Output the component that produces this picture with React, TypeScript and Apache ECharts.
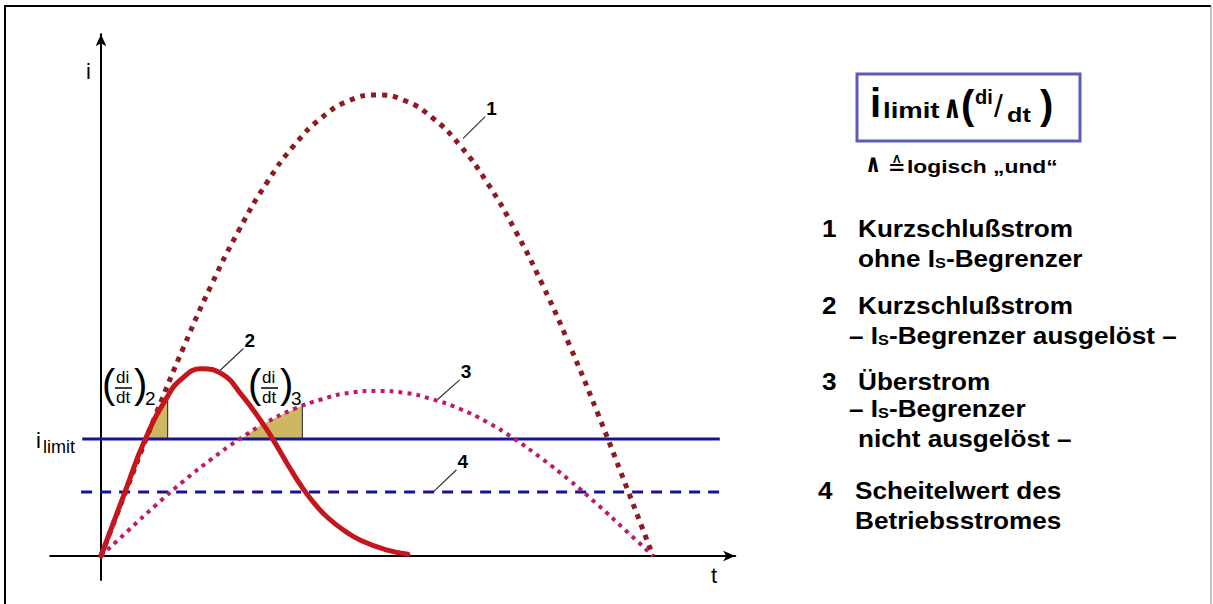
import { useEffect, useRef } from 'react';
import * as echarts from 'echarts';

// Time axis (t) and current axis (i) in arbitrary units
const T_MIN = -0.92;
const T_MAX = 11.49;
const I_MIN = -0.52;
const I_MAX = 11.32;

// 1: short-circuit current without limiter
const t1 = [0, 0.5, 1, 1.5, 2, 2.5, 3, 3.5, 4, 4.5, 5, 5.5, 6, 6.5, 7, 7.5, 8, 8.5, 9, 9.5, 10];
const i1 = [0, 1.56, 3.09, 4.54, 5.88, 7.07, 8.09, 8.91, 9.51, 9.88, 10, 9.88, 9.51, 8.91, 8.09, 7.07, 5.88, 4.54, 3.09, 1.56, 0];

// 2: short-circuit current, limiter tripped
const t2 = [0, 0.435, 0.797, 1.19, 1.46, 1.82, 2.19, 2.55, 2.91, 3.12, 3.39, 3.66, 3.88, 4.11, 4.42, 4.72, 5.15, 5.56];
const i2 = [0, 1.39, 2.52, 3.43, 3.84, 4.06, 3.95, 3.49, 2.91, 2.52, 1.97, 1.46, 1.12, 0.83, 0.54, 0.33, 0.14, 0.04];

// 3: overcurrent, limiter not tripped
const t3 = [0, 0.5, 1, 1.5, 2, 2.5, 3, 3.5, 4, 4.5, 5, 5.5, 6, 6.5, 7, 7.5, 8, 8.5, 9, 9.5, 10];
const i3 = [0, 0.56, 1.11, 1.63, 2.1, 2.53, 2.9, 3.19, 3.4, 3.54, 3.58, 3.54, 3.4, 3.19, 2.9, 2.53, 2.1, 1.63, 1.11, 0.56, 0];

// 4: peak value of the operating current, and the limit threshold
const I_LIMIT = 2.54;
const I_PEAK_OPERATING = 1.39;
const hLineT = [-0.34, 11.21];
const hDashT = [-0.36, 11.21];

// di/dt slices above i_limit
const slice2T = [0.797, 1.0, 1.208];
const slice2I = [2.54, 3.0, 3.46];
const slice3T = [2.54, 2.9, 3.3, 3.647];
const slice3I = [2.54, 2.84, 3.08, 3.26];

// Callout leader lines: [from t, from i, to t, to i], label
const callouts: [number, number, number, number, string][] = [
  [6.56, 9.06, 6.96, 9.53, '1'],
  [2.16, 4.03, 2.58, 4.5, '2'],
  [6.08, 3.38, 6.5, 3.82, '3'],
  [6.02, 1.39, 6.44, 1.87, '4'],
];

const FONT = "'Liberation Sans', Arial, Helvetica, sans-serif";
const SYMBOL_FONT = "'DejaVu Sans', 'Liberation Sans', sans-serif";
const C1 = '#8c1c24';
const C2 = '#c4161c';
const C3 = '#be1a6b';
const BLUE = '#14149a';
const TAN = '#cdb763';

const zip = (a: number[], b: number[]) => a.map((v, k) => [v, b[k]]);

type Run = { text: string; size: number; bold?: boolean; dy?: number; sx?: number };

let measureCtx: CanvasRenderingContext2D | null = null;
function measure(text: string, size: number, bold: boolean) {
  if (!measureCtx) measureCtx = document.createElement('canvas').getContext('2d');
  if (!measureCtx) return text.length * size * 0.55;
  measureCtx.font = `${bold ? 'bold ' : ''}${size}px ${FONT}`;
  return measureCtx.measureText(text).width;
}

function textEl(x: number, y: number, text: string, size: number, bold = false, sx = 1, family = FONT) {
  return {
    type: 'text',
    x,
    y,
    scaleX: sx,
    silent: true,
    style: {
      text,
      fontSize: size,
      fontWeight: bold ? 'bold' : 'normal',
      fontFamily: family,
      fill: '#000',
      align: 'left',
      verticalAlign: 'middle',
    },
  };
}

// Lays out consecutive text runs on one line (y is the cap middle)
function chain(x: number, y: number, runs: Run[], sx = 1) {
  const out: any[] = [];
  let cx = x;
  runs.forEach((r) => {
    const s = r.sx ?? sx;
    out.push(textEl(cx, y + (r.dy ?? 0), r.text, r.size, r.bold ?? true, s));
    cx += measure(r.text, r.size, r.bold ?? true) * s;
  });
  return out;
}

function fraction(ox: number, sub: string) {
  return [
    textEl(102 + ox, 383.5, '(', 40, false),
    textEl(116 + ox, 377.2, 'di', 17, false),
    { type: 'line', silent: true, shape: { x1: 115 + ox, y1: 388, x2: 132 + ox, y2: 388 }, style: { stroke: '#000', lineWidth: 1.5 } },
    textEl(116 + ox, 397.5, 'dt', 17, false),
    textEl(134 + ox, 383.5, ')', 40, false),
    textEl(145 + ox, 398.4, sub, 19, false),
  ];
}

function staticGraphics() {
  const LS = 24;
  const SX = 1.09;
  const sub = (t: string): Run => ({ text: t, size: 15, dy: 5 });
  const n = (t: string): Run => ({ text: t, size: LS });
  return [
    // frame
    { type: 'line', silent: true, shape: { x1: 5, y1: 6, x2: 1211, y2: 6 }, style: { stroke: '#000', lineWidth: 2 } },
    { type: 'line', silent: true, shape: { x1: 5, y1: 5, x2: 5, y2: 604 }, style: { stroke: '#000', lineWidth: 2 } },
    { type: 'line', silent: true, shape: { x1: 1211, y1: 6, x2: 1211, y2: 604 }, style: { stroke: '#888', lineWidth: 1 } },

    // axis names
    textEl(86, 71, 'i', 22),
    textEl(711, 575, 't', 22),

    // i_limit label
    textEl(36, 440.3, 'i', 22),
    textEl(43, 446.7, 'limit', 18),

    // di/dt labels
    ...fraction(0, '2'),
    ...fraction(146, '3'),

    // boxed condition
    { type: 'rect', silent: true, shape: { x: 857, y: 74, width: 223, height: 67 }, style: { fill: 'none', stroke: '#5d5db3', lineWidth: 3 } },
    textEl(870, 103, 'i', 40, true),
    textEl(883, 110.3, 'limit', 22, true, 1.25),
    textEl(943, 107, '∧', 32, true, 0.72, SYMBOL_FONT),
    textEl(961, 105, '(', 40, true),
    textEl(975, 97, 'di', 20, true),
    textEl(994, 106, '/', 32, false),
    textEl(1007, 114.6, 'dt', 21, true, 1.2),
    textEl(1040, 105, ')', 40, true),

    textEl(865, 163, '∧', 25, true, 0.8, SYMBOL_FONT),
    textEl(888, 166, '≙', 25, false, 0.85, SYMBOL_FONT),
    textEl(907, 166, 'logisch „und“', 19, true, 1.2),

    // key
    ...chain(822, 228, [n('1')], SX),
    ...chain(858, 228, [n('Kurzschlußstrom')], SX),
    ...chain(858, 258, [n('ohne I'), sub('S'), n('-Begrenzer')], SX),
    ...chain(822, 305, [n('2')], SX),
    ...chain(858, 305, [n('Kurzschlußstrom')], SX),
    ...chain(849, 335, [n('– I'), sub('S'), n('-Begrenzer ausgelöst –')], SX),
    ...chain(822, 381, [n('3')], SX),
    ...chain(858, 381, [n('Überstrom')], SX),
    ...chain(849, 408, [n('– I'), sub('S'), n('-Begrenzer')], SX),
    ...chain(858, 438, [n('nicht ausgelöst –')], SX),
    ...chain(818, 490, [n('4')], SX),
    ...chain(855, 490, [n('Scheitelwert des')], SX),
    ...chain(855, 520, [n('Betriebsstromes')], SX),
  ];
}

const baseLine = { showSymbol: false, silent: true, animation: false };

function buildOption() {
  return {
    animation: false,
    backgroundColor: '#fff',
    grid: {
      left: 101 + T_MIN * 55.2,
      right: 1213 - (101 + T_MAX * 55.2),
      top: 556 - I_MAX * 46.1,
      bottom: 604 - (556 - I_MIN * 46.1),
      containLabel: false,
      outerBoundsMode: 'none',
    },
    xAxis: {
      type: 'value',
      min: T_MIN,
      max: T_MAX,
      axisLine: { onZero: true, symbol: ['none', 'arrow'], symbolSize: [8, 12], lineStyle: { color: '#000', width: 2 } },
      axisTick: { show: false },
      axisLabel: { show: false },
      splitLine: { show: false },
    },
    yAxis: {
      type: 'value',
      min: I_MIN,
      max: I_MAX,
      axisLine: { show: true, onZero: true, symbol: ['none', 'arrow'], symbolSize: [8, 12], lineStyle: { color: '#000', width: 2 } },
      axisTick: { show: false },
      axisLabel: { show: false },
      splitLine: { show: false },
    },
    series: [
      {
        ...baseLine,
        type: 'line',
        data: zip(slice2T, slice2I),
        lineStyle: { width: 0, opacity: 0 },
        areaStyle: { color: TAN, opacity: 1, origin: I_LIMIT },
        z: 1,
      },
      {
        ...baseLine,
        type: 'line',
        data: zip(slice3T, slice3I),
        lineStyle: { width: 0, opacity: 0 },
        areaStyle: { color: TAN, opacity: 1, origin: I_LIMIT },
        z: 1,
      },
      {
        ...baseLine,
        type: 'line',
        data: [[slice2T[slice2T.length - 1], I_LIMIT], [slice2T[slice2T.length - 1], slice2I[slice2I.length - 1]]],
        lineStyle: { color: '#222', width: 1 },
        z: 2,
      },
      {
        ...baseLine,
        type: 'line',
        data: [[slice3T[slice3T.length - 1], I_LIMIT], [slice3T[slice3T.length - 1], slice3I[slice3I.length - 1]]],
        lineStyle: { color: '#222', width: 1 },
        z: 2,
      },
      {
        ...baseLine,
        type: 'line',
        data: zip(hLineT, [I_LIMIT, I_LIMIT]),
        lineStyle: { color: BLUE, width: 3 },
        z: 3,
      },
      {
        ...baseLine,
        type: 'line',
        data: zip(hDashT, [I_PEAK_OPERATING, I_PEAK_OPERATING]),
        lineStyle: { color: BLUE, width: 3, type: [11, 8] },
        z: 3,
      },
      {
        ...baseLine,
        type: 'line',
        smooth: true,
        data: zip(t1, i1),
        lineStyle: { color: C1, width: 5, type: [5, 6], cap: 'butt' },
        z: 4,
      },
      {
        ...baseLine,
        type: 'line',
        smooth: true,
        data: zip(t3, i3),
        lineStyle: { color: C3, width: 4, type: [4, 5], cap: 'butt' },
        z: 4,
      },
      {
        ...baseLine,
        type: 'line',
        smooth: true,
        data: zip(t2, i2),
        lineStyle: { color: C2, width: 5, cap: 'round', join: 'round' },
        z: 5,
      },
    ],
  };
}

export default function App() {
  const ref = useRef<HTMLDivElement>(null);

  useEffect(() => {
    const el = ref.current;
    if (!el) return;
    const chart = echarts.init(el, undefined, { renderer: 'svg' });
    chart.setOption(buildOption() as any);

    const toPx = (t: number, i: number) => chart.convertToPixel({ gridIndex: 0 } as any, [t, i]) as number[];
    const calloutEls: any[] = [];
    callouts.forEach(([ta, ia, tb, ib, label]) => {
      const a = toPx(ta, ia);
      const b = toPx(tb, ib);
      calloutEls.push({
        type: 'line',
        silent: true,
        shape: { x1: a[0], y1: a[1], x2: b[0], y2: b[1] },
        style: { stroke: '#333', lineWidth: 1.2 },
      });
      calloutEls.push(textEl(b[0] + 1, b[1] - 8, label, 19, true));
    });

    chart.setOption({ graphic: { elements: [...staticGraphics(), ...calloutEls] } } as any);
    return () => chart.dispose();
  }, []);

  return (
    <div
      ref={ref}
      style={{ position: 'fixed', left: 0, top: 0, width: 1213, height: 604, background: '#fff' }}
    />
  );
}
